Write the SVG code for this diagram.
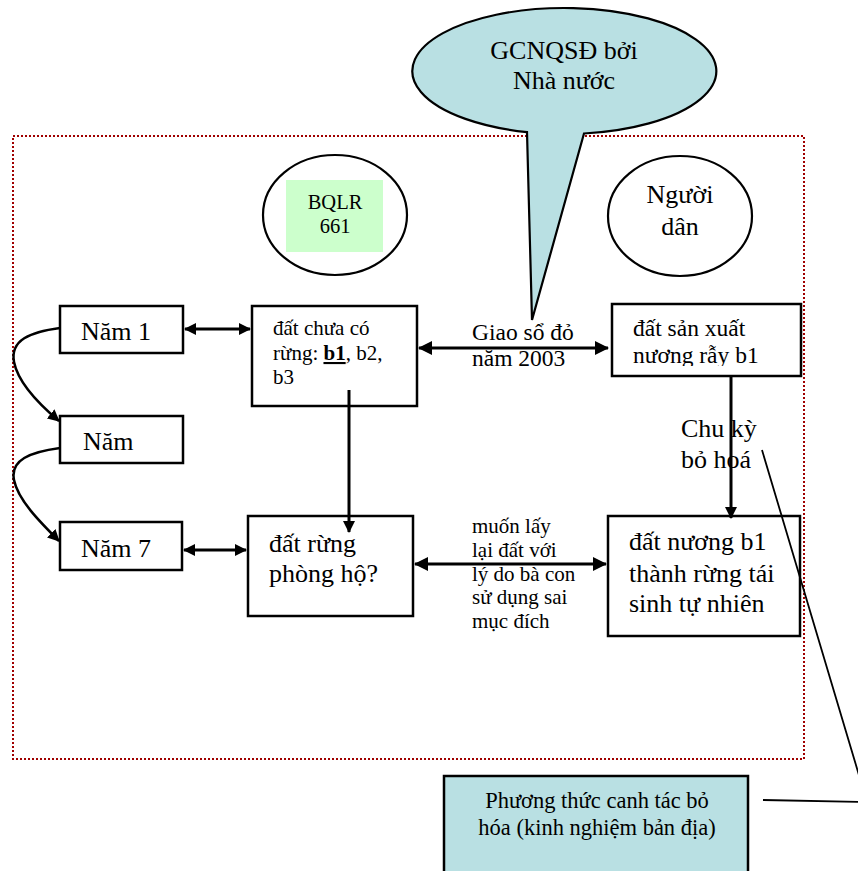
<svg xmlns="http://www.w3.org/2000/svg" width="858" height="871" viewBox="0 0 858 871">
<style>
text{font-family:"Liberation Serif","Times New Roman",serif;fill:#000}
.box{fill:#fff;stroke:#000;stroke-width:2.5}
.ell{fill:#fff;stroke:#000;stroke-width:2.2}
.lg{font-size:26px}
.md{font-size:23.5px}
.sm{font-size:21px}
.conn{fill:none;stroke:#000;stroke-width:3}
.thin{fill:none;stroke:#000;stroke-width:1.8}
</style>
<defs>
<marker id="ah" viewBox="0 0 12 12" refX="11" refY="6" markerWidth="12" markerHeight="12" markerUnits="userSpaceOnUse" orient="auto-start-reverse">
<path d="M0,0 L12,6 L0,12 Z" fill="#000"/>
</marker>
<marker id="ah2" viewBox="0 0 14 14" refX="13" refY="7" markerWidth="14" markerHeight="14" markerUnits="userSpaceOnUse" orient="auto-start-reverse">
<path d="M0,0 L14,7 L0,14 Z" fill="#000"/>
</marker>
<clipPath id="clipSX"><rect x="612" y="304" width="189" height="62"/></clipPath>
</defs>

<rect id="frame" x="13" y="136" width="791" height="623" fill="none" stroke="#a00000" stroke-width="2" stroke-dasharray="2,2"/>

<g id="callout">
<path d="M527,132.1 A152,63 0 1 1 584,133.5 L532,320 Z" fill="#b9e0e3" stroke="#000" stroke-width="2.2"/>
<text class="lg" x="564" y="59" text-anchor="middle">GCNQSĐ bởi</text>
<text class="lg" x="564" y="89" text-anchor="middle">Nhà nước</text>
</g>

<g id="bqlr">
<ellipse class="ell" cx="335" cy="215" rx="72" ry="60"/>
<rect x="286" y="180" width="97" height="72" fill="#ccffcc"/>
<text x="335" y="209" text-anchor="middle" font-size="20.5">BQLR</text>
<text x="335" y="233" text-anchor="middle" font-size="20.5">661</text>
</g>

<g id="nguoidan">
<ellipse class="ell" cx="680" cy="216" rx="72" ry="60"/>
<text class="lg" x="680" y="203" text-anchor="middle">Người</text>
<text class="lg" x="680" y="235" text-anchor="middle">dân</text>
</g>

<g id="nam1">
<rect class="box" x="60" y="306" width="123" height="47"/>
<text class="lg" x="81" y="340">Năm 1</text>
</g>

<g id="nam">
<rect class="box" x="60" y="416" width="123" height="47"/>
<text class="lg" x="83" y="450">Năm</text>
</g>

<g id="nam7">
<rect class="box" x="60" y="522" width="122" height="48"/>
<text class="lg" x="81" y="557">Năm 7</text>
</g>

<g id="datchua">
<rect class="box" x="252" y="306" width="165" height="100"/>
<text class="sm" x="273" y="335">đất chưa có</text>
<text class="sm" x="273" y="360">rừng: <tspan font-weight="bold" text-decoration="underline">b1</tspan>, b2,</text>
<text class="sm" x="273" y="384">b3</text>
</g>

<g id="datrung">
<rect class="box" x="248" y="516" width="165" height="100"/>
<text class="lg" x="269" y="552">đất rừng</text>
<text class="lg" x="269" y="582">phòng hộ?</text>
</g>

<g id="datsx">
<rect class="box" x="612" y="304" width="189" height="72"/>
<g clip-path="url(#clipSX)">
<text class="md" x="633" y="336">đất sản xuất</text>
<text class="md" x="633" y="363">nương rẫy b1</text>
</g>
</g>

<g id="datnuong">
<rect class="box" x="608" y="516" width="192" height="120"/>
<text class="lg" x="629" y="550">đất nương b1</text>
<text class="lg" x="629" y="582">thành rừng tái</text>
<text class="lg" x="629" y="612">sinh tự nhiên</text>
</g>

<g id="phuongthuc">
<rect x="444" y="776" width="304" height="120" fill="#b9e0e3" stroke="#000" stroke-width="2.5"/>
<text x="597" y="808" text-anchor="middle" font-size="22.5">Phương thức canh tác bỏ</text>
<text x="597" y="835" text-anchor="middle" font-size="22.5">hóa (kinh nghiệm bản địa)</text>
</g>

<g id="connectors">
<line class="conn" x1="185" y1="329" x2="250" y2="329" marker-start="url(#ah)" marker-end="url(#ah)"/>
<line class="conn" x1="184" y1="550" x2="246" y2="550" marker-start="url(#ah)" marker-end="url(#ah)"/>
<line class="conn" x1="419" y1="348" x2="608" y2="348" marker-start="url(#ah2)" marker-end="url(#ah2)"/>
<line class="conn" x1="415" y1="564" x2="606" y2="564" marker-start="url(#ah2)" marker-end="url(#ah2)"/>
<line class="conn" x1="349" y1="390" x2="349" y2="532" marker-end="url(#ah)"/>
<line class="conn" x1="731" y1="375" x2="731" y2="518" marker-end="url(#ah)"/>
<path class="conn" style="stroke-width:2.5" d="M60,328 C30,332 10,340 14,362 C18,382 40,405 59,421" marker-end="url(#ah)"/>
<path class="conn" style="stroke-width:2.5" d="M60,448 C30,452 10,460 14,480 C18,500 40,522 59,541" marker-end="url(#ah)"/>
<polyline class="thin" points="762,450 867,802 763,800"/>
</g>

<g id="labels">
<text class="md" x="472" y="340">Giao sổ đỏ</text>
<text class="md" x="472" y="366">năm 2003</text>
<text class="sm" x="472" y="533">muốn lấy</text>
<text class="sm" x="472" y="557">lại đất với</text>
<text class="sm" x="472" y="581">lý do bà con</text>
<text class="sm" x="472" y="604">sử dụng sai</text>
<text class="sm" x="472" y="628">mục đích</text>
<text class="lg" x="681" y="437">Chu kỳ</text>
<text class="lg" x="681" y="468">bỏ hoá</text>
</g>
</svg>
